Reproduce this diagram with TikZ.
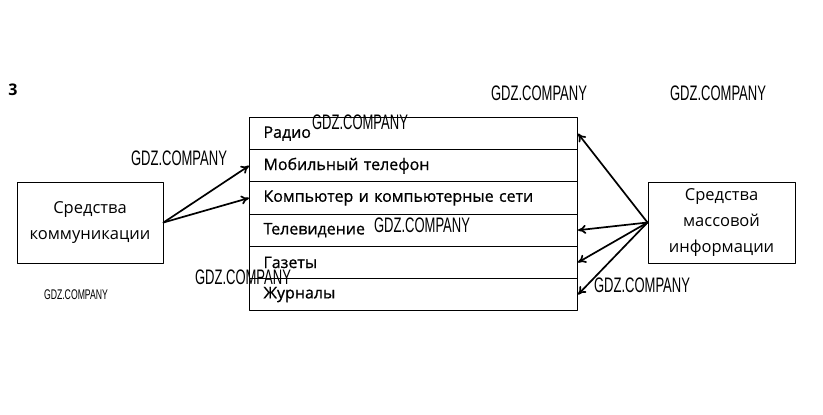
\documentclass[tikz,border=0pt]{standalone}
\usepackage{fontspec}
\setmainfont{Open Sans}
\newfontfamily\wmfont{Liberation Sans}
\newfontfamily\rowfont[FakeBold=0.8]{Open Sans}
\usetikzlibrary{arrows.meta}
\newcommand\gdz{\scalebox{.62}[1]{GDZ.COMPANY}}

\begin{document}
\begin{tikzpicture}[x=1pt, y=-1pt, font=\fontsize{15}{18}\selectfont, line join=round, line cap=round, >={To[length=8pt,width=9pt]},
    box/.style={draw, line width=1pt, minimum width=146, minimum height=81, align=center, font=\fontsize{16.5}{26}\selectfont},
    row/.style={draw, line width=1pt, minimum width=328, minimum height=\rh, text width=300pt, inner xsep=13pt, align=left, anchor=north west, font=\rowfont\fontsize{16}{18}\selectfont},
    wm/.style={inner sep=0pt, font=\wmfont\fontsize{21}{21}\selectfont},
    link/.style={->, line width=1.7pt}]
    \def\tx{249}\def\ty{117}\def\rh{32.2}
    \useasboundingbox (0,0) rectangle (823,415);
    \node[font=\bfseries\fontsize{16}{18}\selectfont] (num) at (13,90) {3};
    % table
    \foreach \t [count=\i] in {Радио, Мобильный телефон, Компьютер и компьютерные сети, Телевидение, Газеты, Журналы}
        \node[row] (r\i) at (\tx,{\ty+(\i-1)*\rh}) {\t};
    \node[box] (lb) at (90,222.5) {Средства\\коммуникации};
    \node[box, minimum width=147] (rb) at (721.5,222.5) {Средства\\массовой\\информации};
    % arrows
    \draw[link] (lb.east) -- (r2.west);
    \draw[link] (lb.east) -- (r3.west);
    \foreach \j in {1,4,5,6}\draw[link] (rb.west) -- (r\j.east);
    % watermarks
    \foreach \x/\y [count=\k] in {539/93, 718/93, 360/122, 179/158, 422/225, 243/277, 642/285}
        \node[wm] (wm\k) at (\x,\y) {\gdz};
    \node[wm, font=\wmfont\fontsize{14}{14}\selectfont] (wm8) at (76,295) {\gdz};
\end{tikzpicture}
\end{document}
